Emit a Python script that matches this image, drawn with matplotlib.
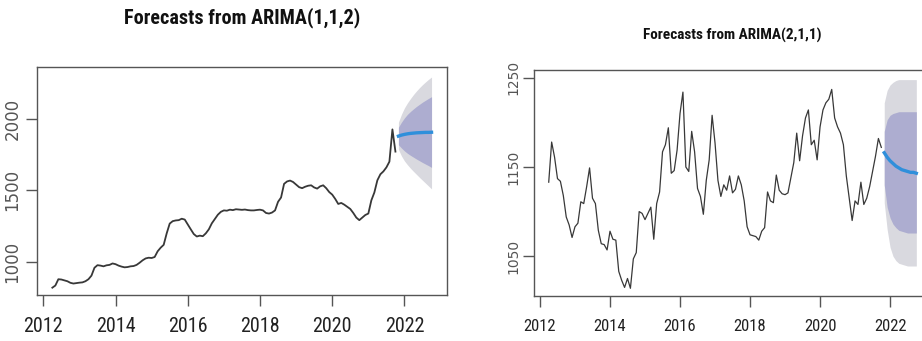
import numpy as np
import matplotlib
matplotlib.use("Agg")
import matplotlib.pyplot as plt
from matplotlib import font_manager

# monthly series, first observation April 2012
start = 2012.25
freq = 12

# series 1 -> ARIMA(1,1,2)
y1 = [821, 836, 880, 878, 872, 866, 855, 850, 853, 856,
      858, 866, 880, 905, 960, 978, 975, 970, 977, 980,
      990, 985, 975, 968, 963, 965, 970, 972, 980, 995,
      1012, 1025, 1030, 1028, 1035, 1075, 1100, 1120, 1200, 1268,
      1285, 1290, 1292, 1302, 1296, 1262, 1228, 1195, 1178, 1184,
      1180, 1200, 1228, 1270, 1300, 1330, 1350, 1360, 1358, 1365,
      1362, 1368, 1366, 1364, 1366, 1362, 1360, 1360, 1363, 1365,
      1360, 1342, 1338, 1345, 1360, 1420, 1450, 1545, 1562, 1568,
      1558, 1540, 1522, 1515, 1525, 1532, 1535, 1520, 1512, 1528,
      1535, 1515, 1488, 1470, 1440, 1405, 1412, 1400, 1385, 1370,
      1342, 1310, 1292, 1310, 1328, 1338, 1430, 1485, 1570, 1612,
      1632, 1660, 1700, 1925, 1770]
fc1_mean = [1878, 1885, 1890, 1894, 1897, 1899, 1901, 1902, 1903, 1904, 1904, 1905]
fc1_lo80 = [1818, 1795, 1775, 1758, 1744, 1731, 1718, 1706, 1694, 1683, 1672, 1660]
fc1_hi80 = [1940, 1975, 2005, 2030, 2050, 2068, 2085, 2100, 2115, 2128, 2141, 2153]
fc1_lo95 = [1785, 1740, 1705, 1678, 1654, 1632, 1611, 1590, 1570, 1550, 1530, 1510]
fc1_hi95 = [1975, 2030, 2075, 2110, 2140, 2168, 2193, 2216, 2237, 2256, 2274, 2290]

# series 2 -> ARIMA(2,1,1)
y2 = [1133, 1178, 1161, 1137, 1134, 1118, 1094, 1085, 1071, 1083,
      1087, 1111, 1109, 1128, 1149, 1115, 1109, 1079, 1064, 1063,
      1057, 1078, 1069, 1068, 1033, 1023, 1015, 1025, 1014, 1047,
      1054, 1100, 1098, 1091, 1098, 1105, 1069, 1109, 1122, 1167,
      1175, 1194, 1143, 1146, 1169, 1210, 1234, 1150, 1145, 1190,
      1167, 1126, 1117, 1097, 1135, 1158, 1208, 1177, 1135, 1117,
      1130, 1124, 1140, 1121, 1125, 1140, 1130, 1112, 1083, 1074,
      1073, 1072, 1068, 1078, 1082, 1122, 1112, 1110, 1141, 1124,
      1120, 1119, 1121, 1138, 1155, 1188, 1157, 1185, 1205, 1214,
      1175, 1180, 1158, 1195, 1214, 1222, 1226, 1237, 1205, 1195,
      1188, 1175, 1140, 1115, 1090, 1112, 1108, 1133, 1108, 1115,
      1128, 1145, 1162, 1182, 1172]
fc2_mean = [1166, 1161, 1157, 1154, 1151, 1149, 1147, 1146, 1145, 1144, 1144, 1143]
fc2_lo80 = [1130, 1105, 1093, 1086, 1082, 1079, 1078, 1077, 1076, 1076, 1076, 1076]
fc2_hi80 = [1190, 1203, 1208, 1210, 1211, 1212, 1212, 1212, 1212, 1212, 1212, 1212]
fc2_lo95 = [1110, 1080, 1060, 1050, 1045, 1042, 1041, 1040, 1039, 1039, 1039, 1039]
fc2_hi95 = [1222, 1236, 1242, 1245, 1247, 1248, 1248, 1248, 1248, 1248, 1248, 1248]

year_ticks = [2012, 2014, 2016, 2018, 2020, 2022]

# narrow face for titles and year labels, first one that is installed
names = {f.name for f in font_manager.fontManager.ttflist}
narrow = "DejaVu Sans"
for cand in ["Liberation Sans Narrow", "Arial Narrow", "Roboto Condensed",
             "Asap Condensed", "Archivo Narrow"]:
    if cand in names:
        narrow = cand
        break

shade95 = "#d9d9df"
shade80 = "#adadd0"
fcol = "#2f8fdb"


def forecast_panel(ax, y, mean, lo80, hi80, lo95, hi95, xfs, yfs, yticks, lw, ypad):
    t = start + np.arange(len(y)) / freq
    tf = t[-1] + np.arange(1, len(mean) + 1) / freq
    ax.fill_between(tf, lo95, hi95, color=shade95, lw=0)
    ax.fill_between(tf, lo80, hi80, color=shade80, lw=0)
    ax.plot(t, y, color="#383838", lw=lw)
    ax.plot(tf, mean, color=fcol, lw=2.4)
    ax.set_xticks(year_ticks)
    ax.set_xticklabels([str(v) for v in year_ticks], fontfamily=narrow, fontsize=xfs)
    ax.set_yticks(yticks)
    ax.set_yticklabels([str(v) for v in yticks], rotation=90, va="center",
                       fontsize=yfs, color="#5a5a5a")
    ax.tick_params(axis="both", direction="out", length=8, width=1, colors="#555555")
    ax.tick_params(axis="x", labelcolor="#222222", pad=8)
    ax.tick_params(axis="y", pad=ypad)
    for s in ax.spines.values():
        s.set_color("#555555")
        s.set_linewidth(1.0)


fig = plt.figure(figsize=(9.22, 3.41), dpi=100)

ax1 = fig.add_axes([0.0398, 0.1349, 0.4447, 0.6686])
forecast_panel(ax1, y1, fc1_mean, fc1_lo80, fc1_hi80, fc1_lo95, fc1_hi95,
               14.5, 12, [1000, 1500, 2000], 1.3, 3)
ax1.set_xlim(2011.817, 2023.17)
ax1.set_ylim(770, 2360)
ax1.set_title("Forecasts from ARIMA(1,1,2)", fontfamily=narrow, fontweight="bold",
              fontsize=14.5, color="#111111", pad=31)

# right panel runs past the edge of the figure
ax2 = fig.add_axes([0.5792, 0.1305, 0.4306, 0.664])
forecast_panel(ax2, y2, fc2_mean, fc2_lo80, fc2_hi80, fc2_lo95, fc2_hi95,
               12, 10, [1050, 1150, 1250], 0.9, 2)
ax2.set_xlim(2011.83, 2023.17)
ax2.set_ylim(1004.8, 1258.7)
ax2.set_title("Forecasts from ARIMA(2,1,1)", fontfamily=narrow, fontweight="bold",
              fontsize=11, color="#111111", pad=22)

fig.savefig("out.png", dpi=100)
